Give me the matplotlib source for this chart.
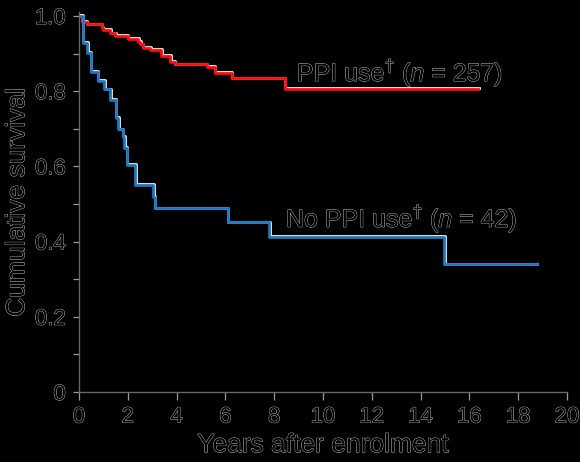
import matplotlib
matplotlib.use("Agg")
import matplotlib.pyplot as plt
import matplotlib.patheffects as pe

# Kaplan-Meier step data
ppi_t = [0, 0.12, 0.32, 0.93, 0.97, 1.27, 1.48, 2.0, 2.42, 2.5, 2.62, 2.91, 3.36, 3.73, 3.93, 5.23, 5.57, 6.26, 8.44, 16.35]
ppi_s = [1.0, 0.985, 0.978, 0.969, 0.963, 0.954, 0.947, 0.939, 0.931, 0.925, 0.916, 0.910, 0.894, 0.878, 0.872, 0.865, 0.849, 0.834, 0.807, 0.807]

noppi_t = [0, 0.16, 0.33, 0.48, 0.77, 1.04, 1.27, 1.50, 1.61, 1.79, 1.86, 1.95, 2.30, 3.05, 3.11, 6.09, 7.80, 14.96, 18.76]
noppi_s = [1.0, 0.928, 0.902, 0.851, 0.828, 0.805, 0.777, 0.729, 0.699, 0.678, 0.649, 0.604, 0.551, 0.519, 0.489, 0.451, 0.413, 0.340, 0.340]

xticks = list(range(0, 21, 2))
yticks = [0, 0.2, 0.4, 0.6, 0.8, 1.0]
ytick_labels = ["0", "0.2", "0.4", "0.6", "0.8", "1.0"]

plt.rcParams["font.family"] = ["Liberation Sans", "DejaVu Sans"]
plt.rcParams["mathtext.fontset"] = "custom"
plt.rcParams["mathtext.rm"] = "Liberation Sans"
plt.rcParams["mathtext.it"] = "Liberation Sans:italic"

# black glyphs with a thin light rim, like the reference
outline = [pe.withStroke(linewidth=0.6, foreground="#cfcfcf")]
line_edge = [pe.Stroke(linewidth=2.0, foreground="#f4f4f4", offset=(0.4, 0.4)), pe.Normal()]

fig = plt.figure(figsize=(5.8, 4.62), dpi=100, facecolor="black")
ax = fig.add_axes([0.1362, 0.1515, 0.8414, 0.8221])
ax.set_facecolor("black")

ax.step(ppi_t, ppi_s, where="post", color="#ff0a0a", lw=2.0, path_effects=line_edge)
ax.step(noppi_t, noppi_s, where="post", color="#1a78c2", lw=2.0, path_effects=line_edge)

ax.set_xlim(0, 20)
ax.set_ylim(0, 1.01)
ax.set_xticks(xticks)
ax.set_yticks(yticks)
ax.set_yticklabels(ytick_labels)
ax.set_yticks([0.1, 0.3, 0.5, 0.7, 0.9], minor=True)

for s in ["top", "right"]:
    ax.spines[s].set_visible(False)
for s in ["left", "bottom"]:
    ax.spines[s].set_color("#666666")
    ax.spines[s].set_linewidth(1.0)

ax.tick_params(axis="both", which="both", direction="out", color="#999999", width=0.9)
ax.tick_params(axis="x", length=5.5, pad=5, labelsize=16, labelcolor="black")
ax.tick_params(axis="y", which="major", length=4.5, pad=5, labelsize=16, labelcolor="black")
ax.tick_params(axis="y", which="minor", length=4.5)
for lab in ax.get_xticklabels() + ax.get_yticklabels():
    lab.set_path_effects(outline)

ax.set_xlabel("Years after enrolment", fontsize=19, color="black", labelpad=4, path_effects=outline)
ax.set_ylabel("Cumulative survival", fontsize=19, color="black", labelpad=4, path_effects=outline)

ax.text(8.93, 0.851, r"PPI use$^{\dagger}$ ($n$ = 257)", fontsize=18, color="black",
        va="center", ha="left", path_effects=outline)
ax.text(8.48, 0.463, r"No PPI use$^{\dagger}$ ($n$ = 42)", fontsize=18, color="black",
        va="center", ha="left", path_effects=outline)

fig.savefig("out.png", dpi=100, facecolor="black")
